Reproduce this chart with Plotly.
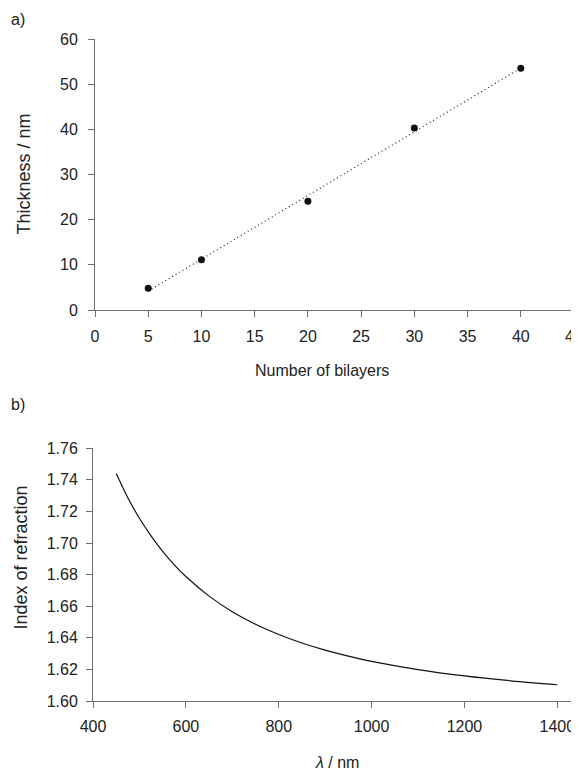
import numpy as np
import plotly.graph_objects as go

# Panel a) data
bilayers = [5, 10, 20, 30, 40]
thickness = [4.8, 11.1, 24.1, 40.3, 53.5]
x_ticks_a = [0, 5, 10, 15, 20, 25, 30, 35, 40, 45]
y_ticks_a = [0, 10, 20, 30, 40, 50, 60]

# Panel b) data (read from picture)
wavelength = [450, 475, 500, 525, 550, 575, 600, 650, 700, 750, 800, 850, 900,
              950, 1000, 1100, 1200, 1300, 1400]
ref_index = [1.7440, 1.7287, 1.7157, 1.7045, 1.6947, 1.6862, 1.6788, 1.6664, 1.6565,
             1.6486, 1.6421, 1.6367, 1.6322, 1.6284, 1.6251, 1.6199, 1.6159, 1.6128,
             1.6103]
x_ticks_b = [400, 600, 800, 1000, 1200, 1400]
y_ticks_b = [1.60, 1.62, 1.64, 1.66, 1.68, 1.70, 1.72, 1.74, 1.76]

# linear trendline through panel a data
slope, intercept = np.polyfit(bilayers, thickness, 1)
fit_x = [min(bilayers), max(bilayers)]
fit_y = [slope * v + intercept for v in fit_x]

# page body has an 8px margin: figure occupies screen pixels 8..579 x 8..771
OFF = 8
W, H = 579 - OFF, 771 - OFF


def px(x):
    return (x - OFF) / W


def py(y):
    return 1 - (y - OFF) / H


FONT = "Liberation Sans, Arial, sans-serif"
AX = "#6e6e6e"
TXT = "#222222"

fig = go.Figure()
fig.add_trace(go.Scatter(x=fit_x, y=fit_y, mode="lines",
                         line=dict(color="#333333", width=1.3, dash="1px,3px"),
                         xaxis="x", yaxis="y", showlegend=False, hoverinfo="skip"))
fig.add_trace(go.Scatter(x=bilayers, y=thickness, mode="markers",
                         marker=dict(color="#111111", size=7),
                         xaxis="x", yaxis="y", showlegend=False))
fig.add_trace(go.Scatter(x=wavelength, y=ref_index, mode="lines",
                         line=dict(color="#111111", width=1.2, shape="spline"),
                         xaxis="x2", yaxis="y2", showlegend=False))

common = dict(showgrid=False, zeroline=False, showline=True, linecolor=AX, linewidth=1,
              ticks="outside", ticklen=6, tickcolor=AX, tickwidth=1, automargin=False,
              ticklabeloverflow="allow",
              tickfont=dict(family=FONT, size=16, color=TXT))

fig.update_layout(
    width=W, height=H,
    margin=dict(l=0, r=0, t=0, b=0),
    paper_bgcolor="white", plot_bgcolor="white",
    font=dict(family=FONT, color=TXT),
    xaxis=dict(domain=[px(95), px(574)], range=[0, 45], tickvals=x_ticks_a,
               anchor="y", ticklabelstandoff=6, **common),
    yaxis=dict(domain=[py(310), py(39)], range=[0, 60], tickvals=y_ticks_a,
               anchor="x", ticklabelstandoff=7, **common),
    xaxis2=dict(domain=[px(93), 1], range=[400, 1446.7], tickvals=x_ticks_b,
                anchor="y2", ticklabelstandoff=5, **common),
    yaxis2=dict(domain=[py(701), py(448.3)], range=[1.60, 1.76], tickvals=y_ticks_b,
                tickformat=".2f", anchor="x2", ticklabelstandoff=5, **common),
)

ann = [
    dict(text="a)", x=18, y=20, size=16, angle=0),
    dict(text="b)", x=18, y=404, size=16, angle=0),
    dict(text="Number of bilayers", x=321.5, y=370, size=16, angle=0),
    dict(text="Thickness / nm", x=23.5, y=174, size=18, angle=-90),
    dict(text="<i>λ</i> / nm", x=336.5, y=762, size=16, angle=0),
    dict(text="Index of refraction", x=20.5, y=558, size=18, angle=-90),
]
for a in ann:
    fig.add_annotation(text=a["text"], x=px(a["x"]), y=py(a["y"]), xref="paper", yref="paper",
                       xanchor="center", yanchor="middle", showarrow=False,
                       textangle=a["angle"], font=dict(family=FONT, size=a["size"], color=TXT))

fig.write_html("out.html")
